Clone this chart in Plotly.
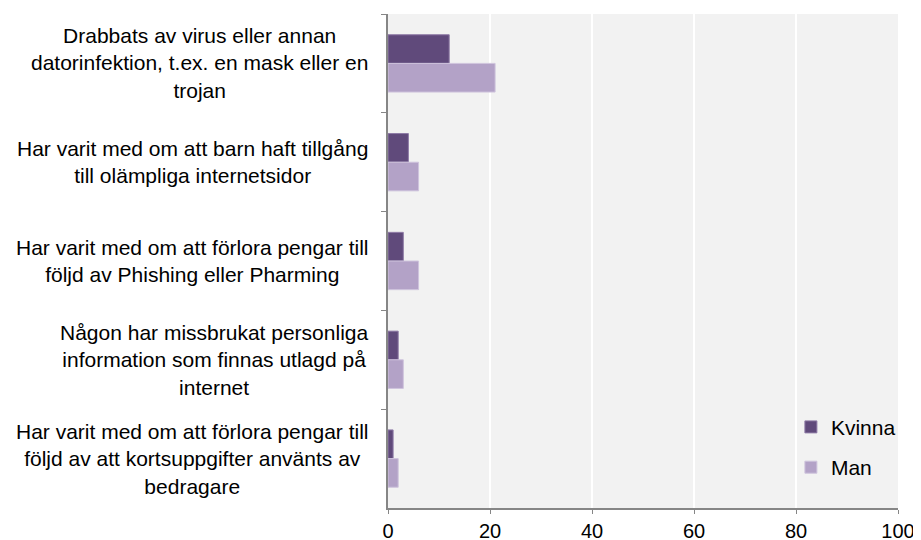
import plotly.graph_objects as go

categories = [
    "Drabbats av virus eller annan<br>datorinfektion, t.ex. en mask eller en<br>trojan",
    "Har varit med om att barn haft tillgång<br>till olämpliga internetsidor",
    "Har varit med om att förlora pengar till<br>följd av Phishing eller Pharming",
    "Någon har missbrukat personliga<br>information som finnas utlagd på<br>internet",
    "Har varit med om att förlora pengar till<br>följd av att kortsuppgifter använts av<br>bedragare",
]
kvinna = [12, 4, 3, 2, 1]
man = [21, 6, 6, 3, 2]

FONT = "Liberation Sans, Arial, sans-serif"

fig = go.Figure()
fig.add_trace(go.Bar(
    y=categories, x=kvinna, name="Kvinna", orientation="h",
    legendgroup="k",
    marker=dict(color="#604A7B", line=dict(color="#8E7AA6", width=1)),
))
fig.add_trace(go.Bar(
    y=categories, x=man, name="Man", orientation="h",
    legendgroup="m",
    marker=dict(color="#B3A2C7", line=dict(color="#CFC4DD", width=1)),
))

# centered multi-line category labels, right edge just left of the axis
for cat in categories:
    fig.add_annotation(
        x=-0.035, xref="paper", y=cat, yref="y",
        text=cat, showarrow=False, xanchor="right", align="center",
        font=dict(family=FONT, size=21, color="#000000"),
    )

# the page body has an 8px margin, so the figure is sized to fit inside it
fig.update_layout(
    width=913, height=532,
    margin=dict(l=380, r=23, t=6, b=32),
    paper_bgcolor="white",
    plot_bgcolor="#F2F2F2",
    barmode="group",
    bargap=0.42,
    bargroupgap=0,
    font=dict(family=FONT, size=20, color="#000000"),
    legend=dict(
        x=0.79, y=0.205, xanchor="left", yanchor="top",
        bgcolor="rgba(0,0,0,0)",
        traceorder="grouped", tracegroupgap=10,
        font=dict(family=FONT, size=21),
        itemwidth=30,
    ),
    xaxis=dict(
        range=[0, 100], dtick=20, tick0=0,
        showgrid=True, gridcolor="white", gridwidth=2,
        showline=True, linecolor="#868686", linewidth=1.5,
        ticks="outside", ticklen=4, tickcolor="#868686",
        zeroline=False, automargin=False,
        tickfont=dict(family=FONT, size=20),
    ),
    yaxis=dict(
        autorange="reversed",
        showticklabels=False,
        showline=True, linecolor="#868686", linewidth=1.5,
        ticks="outside", ticklen=5, tickcolor="#868686",
        tickson="boundaries", automargin=False,
        showgrid=False,
    ),
)

fig.write_html("out.html")
